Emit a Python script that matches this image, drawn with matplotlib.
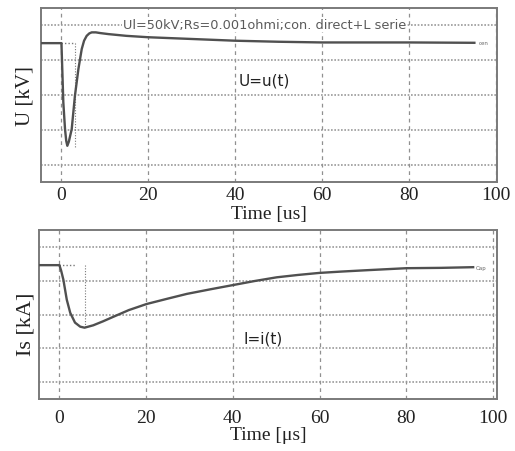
import matplotlib
matplotlib.use("Agg")
import matplotlib.pyplot as plt

# ---- data (arbitrary vertical units) ----
u_time = [-4.6, 0.1, 0.3, 0.53, 0.92, 1.2, 1.45, 1.8, 2.46, 3.2, 4.0, 4.76, 5.3, 5.9, 6.5, 7.06, 8.0, 9.0, 10.9, 15, 20, 30, 40, 50, 60, 70, 80, 95]
u_vals = [39.9, 39.9, 32.0, 22.9, 15.2, 11.8, 10.4, 11.6, 15.2, 24.8, 32.5, 38.2, 40.6, 42.0, 42.7, 43.0, 43.0, 42.8, 42.5, 42.0, 41.6, 41.1, 40.6, 40.3, 40.1, 40.1, 40.1, 40.0]

i_time = [-4.7, 0.0, 0.4, 0.92, 1.7, 2.5, 3.6, 4.8, 5.8, 7.8, 10.1, 12.4, 16.0, 20.1, 25.0, 29.4, 35.0, 40.0, 45.0, 50.1, 55.0, 59.9, 65.0, 70.8, 80.0, 88.0, 95.4]
i_vals = [39.6, 39.6, 38.0, 35.3, 29.4, 25.5, 22.6, 21.4, 21.1, 21.8, 23.0, 24.3, 26.3, 28.1, 29.7, 31.1, 32.5, 33.7, 34.9, 36.0, 36.7, 37.3, 37.7, 38.1, 38.7, 38.8, 39.0]

x_ticks = [0, 20, 40, 60, 80, 100]
y_grid = [5, 15, 25, 35, 45]

title_top = "Ul=50kV;Rs=0.001ohmi;con. direct+L serie"
ylabel_top = "U [kV]"
ylabel_bot = "Is [kA]"
xlabel_top = "Time [us]"
xlabel_bot = "Time [\u03bcs]"
curve_top = "U=u(t)"
curve_bot = "I=i(t)"

serif = ["Liberation Serif", "DejaVu Serif"]
gray = "#7a7a7a"
line_c = "#505050"

fig = plt.figure(figsize=(5.15, 4.52), dpi=100)
ax1 = fig.add_axes([41/515, 1-183/452, 456/515, 174/452])
ax2 = fig.add_axes([39/515, 1-400/452, 458/515, 169/452])


def style(ax, xlim, pad):
    ax.set_xlim(*xlim)
    ax.set_ylim(0, 50)
    ax.set_xticks(x_ticks)
    ax.set_xticklabels([str(t) for t in x_ticks], family=serif, fontsize=14, color="#222222")
    ax.set_yticks(y_grid)
    ax.set_yticklabels([])
    ax.tick_params(axis="x", length=0, pad=pad)
    ax.tick_params(axis="y", length=0, pad=0)
    ax.xaxis.grid(True, linestyle=(0, (3, 3)), color="#909090", linewidth=0.9)
    ax.yaxis.grid(True, linestyle=(0, (1, 1)), color="#9a9a9a", linewidth=1.2)
    for s in ax.spines.values():
        s.set_color(gray)
        s.set_linewidth(1.4)


style(ax1, (-4.6, 100.2), 3)
style(ax2, (-4.7, 100.9), 7)

# top plot
ax1.plot(u_time, u_vals, color=line_c, lw=1.7, zorder=3, solid_joinstyle="round")
ax1.plot([0, 3.2], [u_vals[0], u_vals[0]], color=gray, lw=1.0, ls=(0, (1, 1.5)))
ax1.plot([3.2, 3.2], [u_vals[0], 10], color=gray, lw=0.8, ls=(0, (1, 1.5)))
ax1.text(96, u_vals[-1], "cen", fontsize=4, color="#666666", va="center")
ax1.text(0.49, 45.3, title_top, transform=ax1.get_yaxis_transform(), ha="center", va="center",
         fontsize=9.3, color="#5a5a5a",
         bbox=dict(facecolor="white", edgecolor="none", pad=0.5))
ax1.text(0.49, 29.3, curve_top, transform=ax1.get_yaxis_transform(), ha="center", va="center",
         fontsize=11, color="#222222")
ax1.set_ylabel(ylabel_top, family=serif, fontsize=15, color="#222222")
ax1.yaxis.set_label_coords(-0.015, 0.5)
ax1.set_xlabel(xlabel_top, family=serif, fontsize=14, color="#222222", labelpad=1)

# bottom plot
ax2.plot(i_time, i_vals, color=line_c, lw=1.7, zorder=3, solid_joinstyle="round")
ax2.plot([0, 3.5], [i_vals[0], i_vals[0]], color=gray, lw=1.0, ls=(0, (1, 1.5)))
ax2.plot([5.8, 5.8], [i_vals[0], 21.1], color=gray, lw=0.8, ls=(0, (1, 1.5)))
ax2.text(96, i_vals[-1], "Cap", fontsize=4, color="#666666", va="center")
ax2.text(0.49, 18.0, curve_bot, transform=ax2.get_yaxis_transform(), ha="center", va="center",
         fontsize=11, color="#222222")
ax2.set_ylabel(ylabel_bot, family=serif, fontsize=16, color="#222222")
ax2.yaxis.set_label_coords(-0.008, 0.45)
ax2.set_xlabel(xlabel_bot, family=serif, fontsize=14, color="#222222", labelpad=0.5)

fig.savefig("out.png", dpi=100)
